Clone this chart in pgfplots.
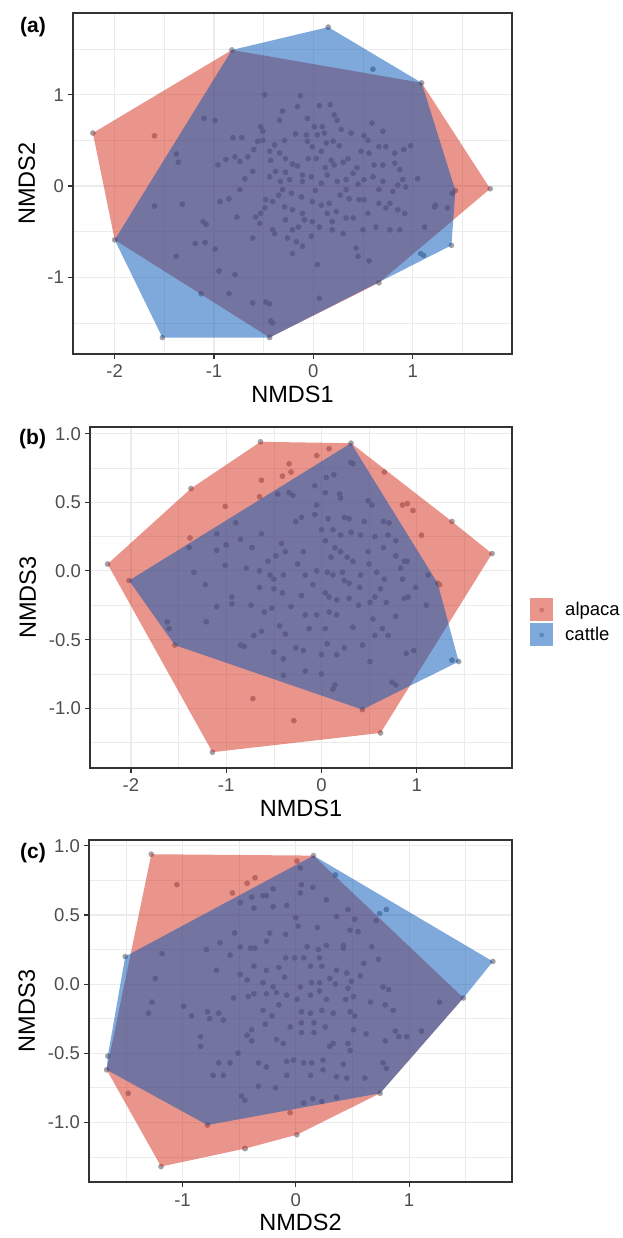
\documentclass[border=0pt]{standalone}
\usepackage{fontspec}
\setmainfont{Liberation Sans}
\usepackage{pgfplots}
\pgfplotsset{compat=1.18}

\definecolor{alpacafill}{RGB}{213,43,25}
\definecolor{cattlefill}{RGB}{0,84,181}
\definecolor{ptgray}{RGB}{160,160,166}
\definecolor{gridgray}{HTML}{EBEBEB}
\definecolor{framegray}{HTML}{333333}
\definecolor{ticktext}{HTML}{4D4D4D}

\pgfplotsset{
  nmds/.style={
    scale only axis, clip marker paths=true,
    axis line style={framegray, line width=1.1pt},
    tick align=outside, tick pos=left,
    major tick length=5pt, minor tick length=0pt,
    tick style={framegray, line width=1.1pt},
    grid=both,
    major grid style={gridgray, line width=1.1pt},
    minor grid style={gridgray, line width=0.55pt},
    ticklabel style={font=\fontsize{18.5}{20}\selectfont, text=ticktext},
    xticklabel style={anchor=base, yshift=-19pt},
    yticklabel style={anchor=base east, inner sep=0pt, xshift=-4pt, yshift=-6.6pt},
    label style={font=\fontsize{23.5}{26}\selectfont},
    legend image code/.code={%
      \fill[ptgray!80!black] (11.5pt,0pt) circle (2.4pt);
      \fill[#1] (0pt,-11.5pt) rectangle (23pt,11.5pt);},
  },
  pts/.style={only marks, mark=*, mark size=2.6pt, color=ptgray, forget plot},
  alp/.style={fill=alpacafill, fill opacity=0.5, draw=none},
  cat/.style={fill=cattlefill, fill opacity=0.5, draw=none},
}

\begin{document}
\begin{tikzpicture}[x=1pt,y=1pt]
\useasboundingbox (0,0) rectangle (622,1238);

% ---------------- (a) NMDS1 vs NMDS2
\begin{axis}[nmds,
  at={(73pt,884pt)}, anchor=south west, width=439pt, height=341pt,
  xmin=-2.42, xmax=2.0, ymin=-1.84, ymax=1.895,
  xtick={-2,-1,0,1}, xticklabels={-2,-1,0,1},
  ytick={-1,0,1}, yticklabels={-1,0,1},
  minor xtick={-1.5,-0.5,0.5,1.5}, minor ytick={-1.5,-0.5,0.5,1.5},
  xlabel={NMDS1}, ylabel={NMDS2},
  xlabel style={at={(axis description cs:0.5,-0.1437)}, anchor=base},
  ylabel style={at={(axis description cs:-0.0866,0.5)}, anchor=base},
]
\addplot[pts] coordinates {
(-0.82,1.49)(0.15,1.74)(1.09,1.13)(1.78,-0.03)(1.43,-0.05)(1.39,-0.65)(0.66,-1.06)
(-0.44,-1.66)(-1.52,-1.66)(-2.0,-0.59)(-2.22,0.58)
(0.60,1.28)(-1.60,0.55)
(-0.49,1.0)(-0.13,0.99)(0.17,0.89)(0.06,0.88)(-0.16,0.87)(-0.31,0.82)(0.21,0.78)
(0.24,0.72)(-0.06,0.74)(0.01,0.65)(0.09,0.65)(0.59,0.69)(-1.1,0.74)(-0.99,0.72)
(-0.53,0.65)(-0.51,0.60)(-0.34,0.72)(0.11,0.58)(0.04,0.56)(-0.18,0.57)(0.2,0.49)
(0.26,0.44)(0.51,0.55)(0.55,0.5)(0.66,0.43)(0.73,0.43)(0.82,0.36)(0.91,0.4)
(0.98,0.44)(-0.81,0.53)(-0.72,0.53)(-0.56,0.49)(-0.51,0.50)(-0.39,0.45)(-0.29,0.5)
(-0.07,0.56)(-0.06,0.49)(-0.01,0.43)(0.13,0.47)(-1.38,0.35)(-1.36,0.26)(-0.96,0.23)
(-0.88,0.29)(-0.79,0.32)(-0.74,0.27)(-0.66,0.32)(-0.61,0.16)(-0.69,0.08)(-0.44,0.38)
(-0.34,0.36)(-0.43,0.28)(-0.28,0.30)(-0.21,0.24)(-0.16,0.22)(-0.38,0.16)(-0.28,0.15)
(-0.44,0.10)(-0.33,0.05)(-0.24,0.07)(-0.11,0.12)(-0.11,0.05)(-0.02,0.10)(0.03,0.30)
(0.08,0.38)(0.18,0.28)(0.21,0.23)(0.30,0.26)(0.35,0.30)(0.48,0.38)(0.56,0.36)
(0.61,0.23)(0.70,0.23)(0.82,0.25)(0.87,0.18)(0.90,0.07)(0.85,0.01)(1.05,0.08)
(0.93,-0.01)(0.80,-0.06)(0.70,0.05)(0.60,0.10)(0.51,0.07)(0.40,0.14)(0.33,0.07)
(0.24,0.05)(0.14,0.12)(0.08,0.03)(0.33,-0.04)(0.36,-0.14)(0.46,-0.15)(0.51,-0.15)
(0.66,-0.04)(0.66,-0.19)(0.73,-0.24)(0.85,-0.26)(0.92,-0.30)(0.77,-0.19)(1.22,-0.23)
(1.23,-0.21)(1.35,-0.24)(1.40,-0.08)(1.12,-0.45)(1.08,-0.74)(1.11,-0.76)(0.56,-0.82)
(0.45,-0.77)(0.43,-0.68)(0.50,-0.48)(0.63,-0.45)(0.77,-0.48)(0.87,-0.48)(0.33,-0.35)
(0.40,-0.35)(0.23,-0.28)(0.14,-0.30)(0.19,-0.39)(0.19,-0.48)(0.30,-0.52)(0.06,-0.45)
(-0.01,-0.39)(-0.02,-0.55)(0.04,-0.86)(0.06,-1.23)(-0.11,-0.30)(-0.09,-0.37)(-0.21,-0.26)
(-0.29,-0.23)(-0.28,-0.37)(-0.21,-0.48)(-0.17,-0.61)(-0.11,-0.66)(-0.21,-0.74)(-0.26,-0.57)
(-0.41,-0.48)(-0.54,-0.41)(-0.49,-0.24)(-0.41,-0.17)(-0.35,-0.10)(-0.48,-0.15)(-0.53,-0.30)
(-0.58,-0.34)(-0.61,-0.57)(-0.39,-0.52)(-0.31,-0.04)(-0.22,-0.08)(-0.12,-0.12)(-0.01,-0.17)
(0.08,-0.21)(0.16,-0.19)(-0.74,-0.04)(-0.85,-0.14)(-0.94,-0.17)(-0.77,-0.34)(-1.32,-0.20)
(-1.60,-0.22)(-1.11,-0.39)(-1.08,-0.42)(-1.19,-0.63)(-1.09,-0.62)(-0.99,-0.69)(-1.38,-0.77)
(-0.95,-0.93)(-0.79,-0.97)(-1.13,-1.18)(-0.85,-1.18)(-0.61,-1.28)(-0.48,-1.27)(-0.44,-1.29)
(-0.43,-1.48)(-0.41,-1.50)(0.28,0.62)(0.38,0.58)(0.12,0.20)(0.27,-0.10)(0.55,-0.30)
(-0.05,0.30)(0.44,0.20)(-0.60,0.40)(0.70,0.60)(0.02,-0.05)(0.45,0.02)(-0.15,-0.45)
};
\addplot[alp] coordinates {(-0.82,1.49)(1.09,1.13)(1.78,-0.03)(0.66,-1.06)(-0.44,-1.66)(-2.0,-0.59)(-2.22,0.58)};
\addplot[cat] coordinates {(-0.82,1.49)(0.15,1.74)(1.09,1.13)(1.43,-0.05)(1.39,-0.65)(-0.44,-1.66)(-1.52,-1.66)(-2.0,-0.59)};
\end{axis}

% ---------------- (b) NMDS1 vs NMDS3
\begin{axis}[nmds,
  at={(90pt,470pt)}, anchor=south west, width=422pt, height=341pt,
  xmin=-2.43, xmax=2.0, ymin=-1.435, ymax=1.048,
  xtick={-2,-1,0,1}, xticklabels={-2,-1,0,1},
  ytick={-1,-0.5,0,0.5,1}, yticklabels={-1.0,-0.5,0.0,0.5,1.0},
  minor xtick={-1.5,-0.5,0.5,1.5}, minor ytick={-1.25,-0.75,-0.25,0.25,0.75},
  xlabel={NMDS1}, ylabel={NMDS3},
  xlabel style={at={(axis description cs:0.5,-0.1437)}, anchor=base},
  ylabel style={at={(axis description cs:-0.128,0.5)}, anchor=base},
  legend style={at={(axis description cs:1.0427,0.4977)}, anchor=north west,
    draw=none, fill=none, inner sep=0pt, row sep=2pt,
    nodes={inner sep=0pt},
    font=\fontsize{18.5}{20}\selectfont},
  legend cell align=left,
  /tikz/every odd column/.append style={column sep=12pt},
]
\addplot[pts] coordinates {
(-0.64,0.94)(0.31,0.93)(1.37,0.36)(1.79,0.126)(0.62,-1.18)(-1.145,-1.32)(-2.245,0.05)
(-1.37,0.60)(1.22,-0.09)(1.44,-0.66)(0.43,-1.01)(-1.54,-0.54)(-2.02,-0.07)(0.66,0.72)
(0.08,0.89)(-0.05,0.84)(-0.34,0.78)(-0.32,0.72)(-0.41,0.69)(-0.63,0.66)(0.31,0.79)
(0.33,0.78)(0.13,0.70)(0.05,0.68)(-0.07,0.62)(0.04,0.57)(0.19,0.56)(0.20,0.53)
(-0.34,0.57)(-0.30,0.55)(-0.46,0.56)(-0.65,0.54)(-1.01,0.47)(-0.05,0.48)(0.49,0.51)
(0.53,0.48)(0.85,0.48)(0.90,0.49)(0.96,0.44)(-0.21,0.39)(-0.27,0.36)(-0.07,0.41)
(0.07,0.38)(0.24,0.39)(0.29,0.38)(0.45,0.36)(0.65,0.36)(0.71,0.35)(1.05,0.26)
(0.00,0.30)(0.12,0.30)(0.20,0.26)(0.31,0.28)(0.41,0.26)(0.56,0.25)(0.70,0.26)
(0.78,0.22)(-0.63,0.27)(-0.85,0.23)(-1.00,0.19)(-1.10,0.27)(-1.38,0.24)(-1.39,0.17)
(-1.10,0.15)(-0.73,0.17)(-0.42,0.20)(-0.38,0.14)(-0.48,0.11)(-0.56,0.07)(-0.19,0.14)
(0.04,0.22)(0.14,0.17)(0.20,0.14)(0.27,0.10)(0.33,0.07)(0.49,0.14)(0.65,0.17)
(0.78,0.11)(0.87,0.07)(0.90,0.07)(-1.01,0.04)(-0.79,0.02)(-0.65,0.00)(-0.54,-0.03)
(-0.50,-0.06)(-0.40,-0.03)(-0.17,-0.03)(-0.05,0.00)(0.06,-0.01)(0.12,-0.03)(0.22,-0.01)
(0.24,-0.07)(0.29,-0.09)(0.41,-0.03)(0.58,-0.01)(0.66,-0.06)(0.83,0.02)(0.85,-0.06)
(1.12,-0.03)(1.24,-0.10)(0.99,-0.12)(0.91,-0.19)(0.87,-0.20)(0.62,-0.13)(0.56,-0.19)
(0.68,-0.23)(1.10,-0.25)(-1.34,-0.01)(-1.10,-0.26)(-0.94,-0.19)(-0.94,-0.24)(-0.74,-0.25)
(-0.65,-0.12)(-0.50,-0.13)(-0.41,-0.16)(-0.52,-0.27)(-0.32,-0.26)(-0.21,-0.18)(-0.09,-0.10)
(0.04,-0.16)(0.08,-0.19)(0.16,-0.21)(0.29,-0.20)(0.39,-0.25)(0.51,-0.23)(-0.17,-0.32)
(-0.05,-0.32)(0.08,-0.30)(0.16,-0.32)(0.33,-0.41)(0.54,-0.35)(0.78,-0.33)(-1.21,-0.37)
(-1.62,-0.37)(-1.60,-0.42)(-0.85,-0.54)(-0.81,-0.55)(-0.71,-0.47)(-0.63,-0.44)(-0.44,-0.40)
(-0.38,-0.46)(-0.27,-0.56)(-0.19,-0.58)(-0.50,-0.59)(-0.40,-0.64)(-0.13,-0.42)(0.04,-0.42)
(0.06,-0.53)(0.00,-0.61)(0.16,-0.61)(0.24,-0.56)(0.43,-0.54)(0.56,-0.47)(0.64,-0.42)
(0.70,-0.47)(0.51,-0.66)(0.89,-0.60)(0.97,-0.58)(0.74,-0.81)(0.78,-0.83)(0.14,-0.83)
(0.12,-0.86)(0.00,-0.75)(-0.17,-0.73)(-0.40,-0.76)(-0.72,-0.93)(-0.29,-1.09)(1.37,-0.65)
(-1.22,-0.10)(-0.90,0.35)(0.40,-0.12)(-0.25,0.05)(0.10,0.10)(0.50,0.05)(-0.60,-0.30)
};
\addplot[alp] coordinates {(-0.64,0.94)(0.31,0.93)(1.37,0.36)(1.79,0.126)(0.62,-1.18)(-1.145,-1.32)(-2.245,0.05)(-1.37,0.60)};
\addlegendentry{alpaca}
\addplot[cat] coordinates {(0.31,0.93)(1.22,-0.09)(1.44,-0.66)(0.43,-1.01)(-1.54,-0.54)(-2.02,-0.07)};
\addlegendentry{cattle}
\end{axis}

% ---------------- (c) NMDS2 vs NMDS3
\begin{axis}[nmds,
  at={(89pt,56pt)}, anchor=south west, width=423pt, height=342pt,
  xmin=-1.826, xmax=1.909, ymin=-1.432, ymax=1.043,
  xtick={-1,0,1}, xticklabels={-1,0,1},
  ytick={-1,-0.5,0,0.5,1}, yticklabels={-1.0,-0.5,0.0,0.5,1.0},
  minor xtick={-1.5,-0.5,0.5,1.5}, minor ytick={-1.25,-0.75,-0.25,0.25,0.75},
  xlabel={NMDS2}, ylabel={NMDS3},
  xlabel style={at={(axis description cs:0.5,-0.1404)}, anchor=base},
  ylabel style={at={(axis description cs:-0.1277,0.5)}, anchor=base},
]
\addplot[pts] coordinates {
(-1.276,0.94)(0.156,0.93)(1.48,-0.10)(0.744,-0.79)(0.009,-1.09)(-0.447,-1.19)(-1.19,-1.32)
(-1.67,-0.62)(1.74,0.164)(-0.78,-1.02)(-1.66,-0.52)(-1.506,0.2)
(-1.05,0.72)(-0.43,0.73)(-0.36,0.77)(-0.56,0.66)(0.01,0.89)(0.04,0.84)(0.05,0.72)
(0.15,0.70)(-0.20,0.69)(-0.26,0.64)(-0.29,0.64)(-0.39,0.63)(-0.49,0.59)(-0.37,0.55)
(-0.20,0.56)(-0.08,0.57)(0.04,0.66)(0.35,0.79)(0.27,0.61)(0.36,0.49)(0.46,0.54)
(0.52,0.47)(0.71,0.46)(0.80,0.54)(0.74,0.51)(0.55,0.38)(0.48,0.39)(0.67,0.27)
(0.73,0.18)(0.19,0.41)(0.27,0.28)(0.42,0.26)(0.42,0.28)(0.20,0.25)(0.10,0.27)
(0.00,0.48)(0.02,0.42)(-0.09,0.36)(-0.23,0.37)(-0.26,0.31)(-0.36,0.26)(-0.40,0.26)
(-0.49,0.27)(-0.58,0.21)(-0.79,0.25)(-0.67,0.30)(-0.54,0.37)(-1.18,0.22)(-1.24,0.04)
(-1.27,-0.13)(-1.30,-0.21)(-0.99,-0.16)(-0.92,-0.23)(-0.78,-0.20)(-0.76,-0.25)(-0.68,-0.21)
(-0.64,-0.26)(-0.84,-0.38)(-0.84,-0.45)(-0.49,0.07)(-0.43,0.03)(-0.37,-0.07)(-0.42,-0.09)
(-0.29,0.01)(-0.20,-0.02)(-0.17,-0.06)(-0.26,-0.07)(-0.37,0.13)(-0.26,0.10)(-0.15,0.12)
(-0.09,0.19)(-0.01,0.19)(0.07,0.19)(0.13,0.13)(0.21,0.19)(0.23,0.13)(0.30,0.04)
(0.36,0.10)(0.45,0.08)(0.57,0.06)(0.49,0.02)(0.46,-0.03)(0.21,0.01)(0.14,0.01)
(0.04,-0.02)(-0.08,-0.08)(0.01,-0.11)(0.13,-0.08)(0.21,-0.05)(0.27,-0.11)(0.44,-0.11)
(0.51,-0.09)(0.66,-0.13)(0.77,-0.02)(0.82,-0.04)(0.79,-0.15)(0.86,-0.19)(0.88,-0.34)
(0.91,-0.38)(0.98,-0.38)(1.11,-0.34)(1.27,-0.13)(0.79,-0.41)(0.77,-0.57)(0.80,-0.61)
(0.61,-0.68)(0.45,-0.68)(0.36,-0.67)(0.24,-0.62)(0.42,-0.58)(0.33,-0.43)(0.48,-0.48)
(0.46,-0.43)(0.51,-0.33)(0.62,-0.36)(0.52,-0.23)(0.48,-0.20)(0.33,-0.21)(0.23,-0.19)
(0.13,-0.21)(0.05,-0.20)(0.05,-0.28)(0.16,-0.28)(0.26,-0.31)(0.16,-0.35)(0.05,-0.35)
(-0.05,-0.31)(-0.17,-0.40)(-0.11,-0.43)(-0.27,-0.29)(-0.21,-0.23)(-0.29,-0.19)(-0.39,-0.33)
(-0.43,-0.37)(-0.39,-0.41)(-0.51,-0.50)(-0.58,-0.57)(-0.68,-0.57)(-0.73,-0.66)(-0.64,-0.66)
(-0.33,-0.57)(-0.26,-0.60)(-0.33,-0.74)(-0.18,-0.75)(-0.08,-0.66)(-0.08,-0.56)(-0.02,-0.55)
(0.07,-0.57)(0.14,-0.57)(0.13,-0.66)(0.24,-0.55)(0.07,-0.86)(0.15,-0.83)(0.23,-0.85)
(0.36,-0.82)(-0.05,-0.93)(-0.48,-0.81)(-0.45,-0.84)(-0.45,-1.19)(-1.48,-0.79)
(-0.10,0.05)(0.30,-0.45)(-0.55,-0.10)(0.60,0.15)(-0.15,-0.15)(0.35,0.00)(-0.70,0.10)
};
\addplot[alp] coordinates {(-1.276,0.94)(0.156,0.93)(1.48,-0.10)(0.744,-0.79)(0.009,-1.09)(-0.447,-1.19)(-1.19,-1.32)(-1.67,-0.62)};
\addplot[cat] coordinates {(0.156,0.93)(1.74,0.164)(1.48,-0.10)(0.744,-0.79)(-0.78,-1.02)(-1.67,-0.62)(-1.66,-0.52)(-1.506,0.2)};
\end{axis}

% panel tags
\node[anchor=north west, inner sep=0pt, font=\bfseries\fontsize{21}{21}\selectfont] at (20,1221) {(a)};
\node[anchor=north west, inner sep=0pt, font=\bfseries\fontsize{21}{21}\selectfont] at (19,809) {(b)};
\node[anchor=north west, inner sep=0pt, font=\bfseries\fontsize{21}{21}\selectfont] at (20,395) {(c)};
\end{tikzpicture}
\end{document}
